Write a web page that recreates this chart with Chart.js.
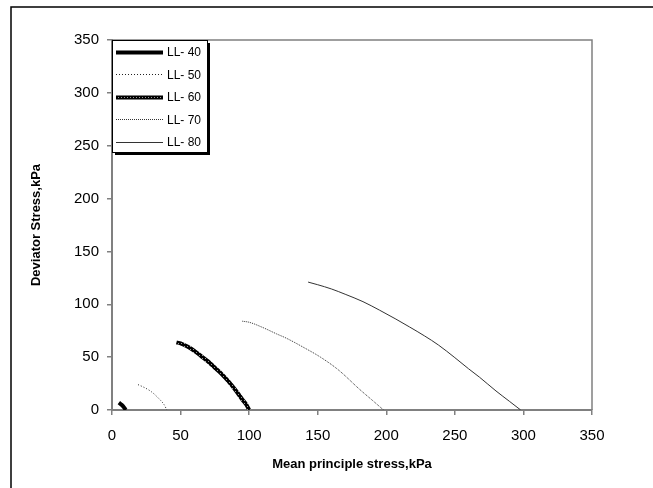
<!DOCTYPE html>
<html>
<head>
<meta charset="utf-8">
<script src="https://cdn.jsdelivr.net/npm/chart.js@4"></script>
<style>
html,body{margin:0;padding:0;background:#fff;}
#wrap{width:653px;height:488px;position:relative;}
</style>
</head>
<body>
<div id="wrap"><canvas id="c" width="653" height="488"></canvas></div>
<script>
// ---- data ----
const seriesLabels = ["LL- 40", "LL- 50", "LL- 60", "LL- 70", "LL- 80"];
const ll40X = [5, 7, 9, 10];
const ll40Y = [7, 5, 2, 0];
const ll50X = [19, 24, 29, 34, 38, 40];
const ll50Y = [24, 21, 17, 11, 5, 0];
const ll60X = [47, 50, 55, 60, 65, 70, 75, 80, 85, 90, 95, 98, 100];
const ll60Y = [64, 63, 60, 56, 51, 46, 40, 34, 27, 19, 10, 5, 0];
const ll70X = [95, 100, 110, 120, 127, 140, 152, 165, 181, 190, 198];
const ll70Y = [84, 83, 78, 72, 68, 59, 50, 38, 19, 9, 0];
const ll80X = [143, 150, 160, 170, 183, 195, 207, 217, 228, 238, 250, 260, 268, 280, 290, 298];
const ll80Y = [121, 118.5, 114.5, 109.5, 102.5, 94.5, 86, 78.5, 70, 61.5, 49.5, 39, 31, 18, 8, 0];
const axisTicks = [0, 50, 100, 150, 200, 250, 300, 350];
const xTitle = "Mean principle stress,kPa";
const yTitle = "Deviator Stress,kPa";

function pts(xs, ys){ return xs.map((x,i)=>({x:x, y:ys[i]})); }

// pattern for the checkered thick LL-60 line
const pc = document.createElement('canvas');
pc.width = 3; pc.height = 3;
const pctx = pc.getContext('2d');
pctx.fillStyle = '#000'; pctx.fillRect(0,0,3,3);
pctx.fillStyle = '#999'; pctx.fillRect(1,1,1,1);
const ctx0 = document.getElementById('c').getContext('2d');
const pat = ctx0.createPattern(pc, 'repeat');

const styles = [
  {color:'#000', width:4, dash:[]},
  {color:'#222', width:1, dash:[1,2]},
  {color:pat, width:4, dash:[]},
  {color:'#333', width:1, dash:[1,1]},
  {color:'#333', width:1, dash:[]}
];
const allX = [ll40X, ll50X, ll60X, ll70X, ll80X];
const allY = [ll40Y, ll50Y, ll60Y, ll70Y, ll80Y];

const datasets = seriesLabels.map((lab,i)=>({
  label: lab,
  data: pts(allX[i], allY[i]),
  showLine: true,
  fill: false,
  borderColor: styles[i].color,
  borderWidth: styles[i].width,
  borderDash: styles[i].dash,
  pointRadius: 0,
  pointHoverRadius: 0,
  cubicInterpolationMode: 'monotone'
}));

const frame = {
  id: 'frame',
  beforeDraw(chart){
    const c = chart.ctx;
    c.save();
    c.fillStyle = '#fff';
    c.fillRect(0,0,chart.width,chart.height);
    c.strokeStyle = '#000';
    c.lineWidth = 1.5;
    c.strokeRect(11, 7, 700, 520);
    c.restore();
  },
  afterDatasetsDraw(chart){
    const c = chart.ctx, a = chart.chartArea;
    c.save();
    c.strokeStyle = '#808080';
    c.lineWidth = 1.5;
    c.beginPath();
    c.moveTo(a.left, a.top); c.lineTo(a.right, a.top); c.lineTo(a.right, a.bottom);
    c.stroke();
    // legend
    const lx = a.left, ly = a.top, lw = 95, lh = 112;
    c.fillStyle = '#000';
    c.fillRect(lx+3, ly+3, lw, lh);
    c.fillStyle = '#fff';
    c.fillRect(lx, ly, lw, lh);
    c.strokeStyle = '#000'; c.lineWidth = 1;
    c.strokeRect(lx+0.5, ly+0.5, lw, lh);
    c.font = '12px "Liberation Sans", Arial, sans-serif';
    c.textBaseline = 'middle';
    chart.data.datasets.forEach((ds,i)=>{
      const yy = ly + 12 + i*22.4;
      c.save();
      c.strokeStyle = ds.borderColor;
      c.lineWidth = ds.borderWidth;
      c.setLineDash(ds.borderDash);
      c.beginPath();
      c.moveTo(lx+4, Math.round(yy)+0.5); c.lineTo(lx+51, Math.round(yy)+0.5);
      c.stroke();
      c.restore();
      c.fillStyle = '#000';
      c.fillText(ds.label, lx+55, yy+1);
    });
    c.restore();
  }
};

const tickFont = {family:'"Liberation Sans", Arial, sans-serif', size:15};
const titleFont = {family:'"Liberation Sans", Arial, sans-serif', size:13, weight:'bold'};

new Chart(document.getElementById('c'), {
  type: 'scatter',
  data: {datasets: datasets},
  options: {
    responsive: false,
    animation: false,
    devicePixelRatio: 1,
    layout: {padding: {left:0, right:61, top:40, bottom:0}},
    plugins: {legend:{display:false}, tooltip:{enabled:false}},
    scales: {
      x: {
        type:'linear', min:0, max:350,
        afterBuildTicks(s){ s.ticks = axisTicks.map(v=>({value:v})); },
        afterFit(s){ s.height = 78; },
        ticks: {font:tickFont, color:'#000', padding:12, maxRotation:0},
        grid: {drawOnChartArea:false, drawTicks:true, tickLength:5, color:'#808080', lineWidth:1.5},
        border: {color:'#808080', width:2},
        title: {display:true, text:xTitle, font:titleFont, color:'#000', padding:{top:0,bottom:16}}
      },
      y: {
        type:'linear', min:0, max:350,
        afterBuildTicks(s){ s.ticks = axisTicks.map(v=>({value:v})); },
        afterFit(s){ s.width = 112; },
        ticks: {font:tickFont, color:'#000', padding:8},
        grid: {drawOnChartArea:false, drawTicks:true, tickLength:5, color:'#808080', lineWidth:1.5},
        border: {color:'#808080', width:2},
        title: {display:true, text:yTitle, font:titleFont, color:'#000', padding:{top:29,bottom:0}}
      }
    }
  },
  plugins: [frame]
});
</script>
</body>
</html>
